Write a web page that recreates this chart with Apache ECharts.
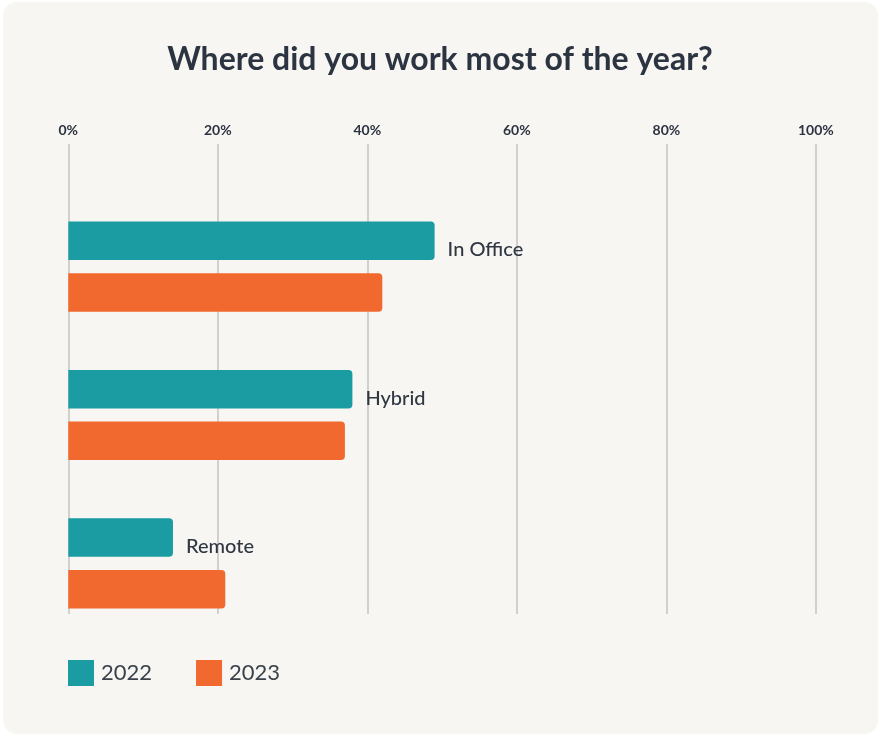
<!DOCTYPE html>
<html>
<head>
<meta charset="utf-8">
<script src="https://cdn.jsdelivr.net/npm/echarts@6/dist/echarts.min.js"></script>
<style>
  html, body { margin: 0; padding: 0; background: #ffffff; }
  #card {
    position: absolute; left: 3px; top: 2px; width: 875px; height: 732px;
    background: #f7f6f2; border-radius: 14px;
  }
  #chart { position: absolute; left: 0; top: 0; width: 880px; height: 736px; }
</style>
</head>
<body>
<div id="card"></div>
<div id="chart"></div>
<script>
// Survey: where respondents worked most of the year
const categories = ['In Office', 'Hybrid', 'Remote'];
const values2022 = [49, 38, 14];
const values2023 = [42, 37, 21];
const seriesNames = ['2022', '2023'];
const tickValues = [0, 20, 40, 60, 80, 100];

const teal = '#1a9ca2';
const orange = '#f1692e';
const ink = '#2b3440';
const font = 'Lato, "Noto Sans", sans-serif';

const chart = echarts.init(document.getElementById('chart'), null, { renderer: 'canvas' });

const left = 68.3, right = 880 - 815.9;

chart.setOption({
  backgroundColor: 'transparent',
  animation: false,
  title: {
    text: 'Where did you work most of the year?',
    left: 'center',
    top: 39,
    textStyle: { fontFamily: font, fontSize: 32, fontWeight: 'bold', color: ink }
  },
  legend: {
    data: seriesNames,
    left: 63,
    top: 655,
    icon: 'rect',
    itemWidth: 26,
    itemHeight: 26,
    itemGap: 44,
    textStyle: { fontFamily: font, fontSize: 22, color: '#3a424c', padding: [0, 0, 0, 2] }
  },
  grid: [
    // grid holding the percentage scale and vertical rules
    { left: left, right: right, top: 144, height: 470 },
    // grid holding the bars
    { left: left, right: right, top: 192.5, height: 445 }
  ],
  xAxis: [
    {
      gridIndex: 0, type: 'value', position: 'top',
      min: tickValues[0], max: tickValues[tickValues.length - 1], interval: 20,
      axisLine: { show: false }, axisTick: { show: false },
      axisLabel: {
        margin: 7, fontFamily: font, fontSize: 14, fontWeight: 'bold', color: ink,
        formatter: v => v + '%'
      },
      splitLine: { show: true, lineStyle: { color: '#d2d0cc', width: 2 } }
    },
    {
      gridIndex: 1, type: 'value', min: 0, max: 100, show: false,
      splitLine: { show: false }
    }
  ],
  yAxis: [
    { gridIndex: 0, type: 'value', show: false, splitLine: { show: false } },
    {
      gridIndex: 1, type: 'category', data: categories, inverse: true, show: false
    }
  ],
  series: [
    {
      name: seriesNames[0], type: 'bar', xAxisIndex: 1, yAxisIndex: 1,
      data: values2022, barWidth: 38.5, barGap: '34%',
      itemStyle: { color: teal, borderRadius: [0, 4, 4, 0] },
      label: {
        show: true, position: 'right', distance: 13, offset: [0, 9],
        formatter: p => p.name,
        fontFamily: font, fontSize: 20, fontWeight: 500, color: '#2f3742'
      },
      z: 3
    },
    {
      name: seriesNames[1], type: 'bar', xAxisIndex: 1, yAxisIndex: 1,
      data: values2023, barWidth: 38.5, barGap: '34%',
      itemStyle: { color: orange, borderRadius: [0, 4, 4, 0] },
      z: 3
    }
  ]
});
</script>
</body>
</html>
